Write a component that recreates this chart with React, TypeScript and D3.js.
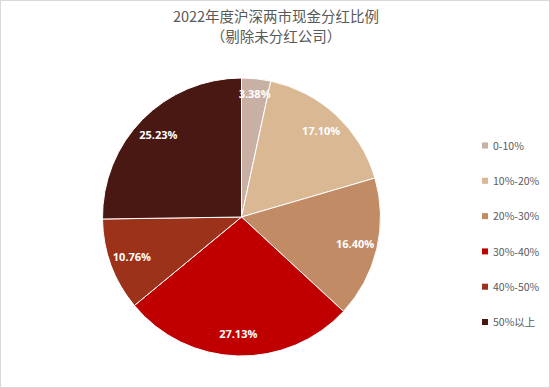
import React, { useEffect, useRef } from 'react'
import * as d3 from 'd3'

// 2022 cash dividend payout ratio distribution (A-share, excluding non-payers)
const categories = ['0-10%', '10%-20%', '20%-30%', '30%-40%', '40%-50%', '50%以上']
const shares = [3.38, 17.1, 16.4, 27.13, 10.76, 25.23]
const colors = ['#c9b0a5', '#d9b893', '#c18b66', '#c00000', '#9b3219', '#4a1813']
const titleLines = ['2022年度沪深两市现金分红比例', '（剔除未分红公司）']

const width = 550
const height = 388

const App = () => {
  const svgRef = useRef<SVGSVGElement>(null)

  useEffect(() => {
    const svg = d3.select(svgRef.current)
    svg.selectAll('*').remove()
    svg.attr('width', width).attr('height', height)

    svg
      .append('rect')
      .attr('x', 0.5)
      .attr('y', 0.5)
      .attr('width', width - 1)
      .attr('height', height - 1)
      .attr('fill', '#fff')
      .attr('stroke', '#d9d9d9')

    svg
      .selectAll('text.title')
      .data(titleLines)
      .enter()
      .append('text')
      .attr('class', 'title')
      .attr('x', 276)
      .attr('y', (d, i) => 22 + i * 20)
      .attr('text-anchor', 'middle')
      .attr('font-family', '"Noto Sans CJK SC", sans-serif')
      .attr('font-size', 14.5)
      .attr('fill', '#595959')
      .text(d => d)

    const cx = 241.5
    const cy = 217
    const r = 139

    const pie = d3.pie<number>().sort(null).value(d => d)
    const arcs = pie(shares)
    const arc = d3.arc<d3.PieArcDatum<number>>().innerRadius(0).outerRadius(r)
    // small slices get their label pushed a bit further out, like Excel does
    const labelR = (d: d3.PieArcDatum<number>) => (d.data < 5 ? r * 0.89 : r * 0.84)

    const g = svg.append('g').attr('transform', `translate(${cx},${cy})`)

    g.selectAll('path')
      .data(arcs)
      .enter()
      .append('path')
      .attr('d', arc)
      .attr('fill', (d, i) => colors[i])
      .attr('stroke', '#fff')
      .attr('stroke-width', 1)

    g.selectAll('text')
      .data(arcs)
      .enter()
      .append('text')
      .attr('transform', d => {
        const [x, y] = d3
          .arc<d3.PieArcDatum<number>>()
          .innerRadius(labelR(d))
          .outerRadius(labelR(d))
          .centroid(d)
        return `translate(${x},${y})`
      })
      .attr('dy', '0.35em')
      .attr('text-anchor', 'middle')
      .attr('font-family', '"Open Sans", sans-serif')
      .attr('font-size', 11)
      .attr('font-weight', 'bold')
      .attr('fill', '#fff')
      .text(d => d.data.toFixed(2) + '%')

    const legendY = d3
      .scalePoint<string>()
      .domain(categories)
      .range([146, 322.5])

    const legend = svg
      .selectAll('g.legend')
      .data(categories)
      .enter()
      .append('g')
      .attr('class', 'legend')
      .attr('transform', d => `translate(482,${legendY(d)})`)

    legend
      .append('rect')
      .attr('x', 0)
      .attr('y', -3.5)
      .attr('width', 6)
      .attr('height', 6)
      .attr('fill', (d, i) => colors[i])

    legend
      .append('text')
      .attr('x', 11)
      .attr('dy', '0.35em')
      .attr('font-family', '"Noto Sans CJK SC", sans-serif')
      .attr('font-size', 10.5)
      .attr('fill', '#595959')
      .text(d => d)
  }, [])

  return <svg ref={svgRef} style={{ position: 'absolute', left: 0, top: 0 }} />
}

export default App
